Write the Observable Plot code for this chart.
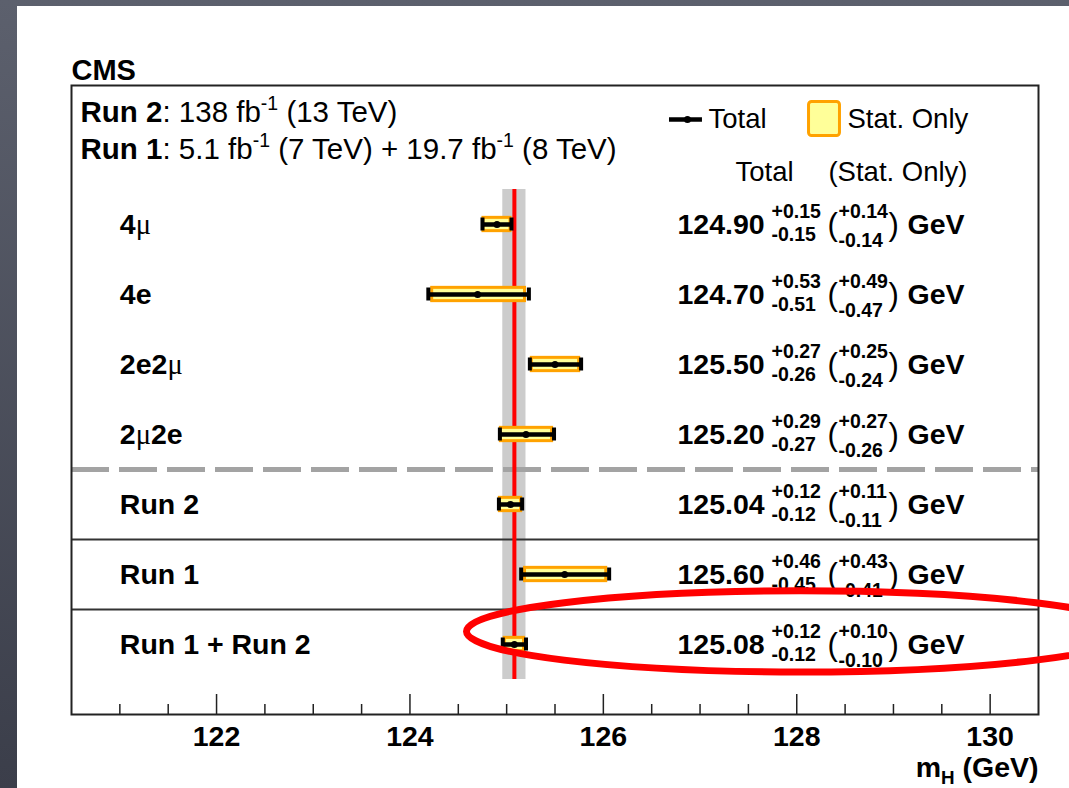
<!DOCTYPE html>
<html><head><meta charset="utf-8">
<script src="https://cdn.jsdelivr.net/npm/d3@7"></script>
<script src="https://cdn.jsdelivr.net/npm/@observablehq/plot@0.6"></script>
<style>
html,body{margin:0;padding:0;width:1069px;height:788px;overflow:hidden;}
body{background:linear-gradient(#5c606d,#3b3e4a);position:relative;font-family:"Liberation Sans",Arial,sans-serif;}
#panel{position:absolute;left:17px;top:6px;width:1052px;height:782px;background:#fff;}
</style></head><body><div id="panel"></div>
<script>
// ---- data ----
const categories = ["**4§μ§**", "**4e**", "**2e2§μ§**", "**2§μ§2e**", "**Run 2**", "**Run 1**", "**Run 1 + Run 2**"];
const mass   = [124.90, 124.70, 125.50, 125.20, 125.04, 125.60, 125.08];
const totUp  = [0.15, 0.53, 0.27, 0.29, 0.12, 0.46, 0.12];
const totDn  = [0.15, 0.51, 0.26, 0.27, 0.12, 0.45, 0.12];
const statUp = [0.14, 0.49, 0.25, 0.27, 0.11, 0.43, 0.10];
const statDn = [0.14, 0.47, 0.24, 0.26, 0.11, 0.41, 0.10];
const majorTicks = [122, 124, 126, 128, 130];
const minorTicks = [121, 121.5, 122.5, 123, 123.5, 124.5, 125, 125.5, 126.5, 127, 127.5, 128.5, 129, 129.5];
const headerRun2 = "**Run 2**: 138 fb^{-1} (13 TeV)";
const headerRun1 = "**Run 1**: 5.1 fb^{-1} (7 TeV) + 19.7 fb^{-1} (8 TeV)";
const legendTotal = "Total";
const legendStat = "Stat. Only";
const columnTotal = "Total";
const columnStat = "(Stat. Only)";
const cmsLabel = "CMS";
const xLabel = "**m_{H} (GeV)**";
const unitLabel = "GeV";

const rows = categories.map((c, i) => ({
  c, i, m: mass[i], tu: totUp[i], td: totDn[i], su: statUp[i], sd: statDn[i]
}));
const comb = rows[rows.length - 1];

const FONT = "'Liberation Sans', Arial, Helvetica, sans-serif";
const vx = 126.767;       // value column start (GeV units)
const capH = 13 / 70;     // cap height (row units)
const boxH = 0.095;

const plot = Plot.plot({
  width: 1052, height: 782,
  marginLeft: 54, marginRight: 31, marginTop: 79, marginBottom: 74,
  x: {domain: [120.5, 130.5]},
  y: {domain: [-139 / 70, 7], reverse: true, axis: null},
  style: {fontFamily: FONT, fontSize: "28px", background: "white", color: "black"},
  marks: [
    // combined band + separators
    Plot.rect([comb], {x1: d => d.m - d.td, x2: d => d.m + d.tu, y1: () => -0.5, y2: () => 6.5, fill: "#cccccc"}),
    Plot.ruleY([3.5], {stroke: "#a3a3a3", strokeWidth: 5, strokeDasharray: "38,10"}),
    Plot.ruleY([4.5, 5.5], {stroke: "#333", strokeWidth: 2}),
    Plot.ruleX([comb], {x: "m", y1: () => -0.5, y2: () => 6.5, stroke: "#ff0000", strokeWidth: 4}),
    // stat boxes
    Plot.rect(rows, {x1: d => d.m - d.sd, x2: d => d.m + d.su, y1: d => d.i - boxH, y2: d => d.i + boxH,
      fill: "#ffff99", stroke: "#ffa200", strokeWidth: 3}),
    // total error bars
    Plot.ruleY(rows, {y: "i", x1: d => d.m - d.td, x2: d => d.m + d.tu, stroke: "black", strokeWidth: 4.5}),
    Plot.ruleX(rows, {x: d => d.m - d.td, y1: d => d.i - capH / 2, y2: d => d.i + capH / 2, stroke: "black", strokeWidth: 4}),
    Plot.ruleX(rows, {x: d => d.m + d.tu, y1: d => d.i - capH / 2, y2: d => d.i + capH / 2, stroke: "black", strokeWidth: 4}),
    Plot.dot(rows, {x: "m", y: "i", r: 3.5, fill: "black"}),
    // row labels
    Plot.text(rows, {x: () => 121.0, y: "i", text: "c", textAnchor: "start", fontSize: 28.5, fontWeight: "bold"}),
    // value column
    Plot.text(rows, {x: () => vx, y: "i", text: d => d.m.toFixed(2), textAnchor: "start", fontSize: 28.5, fontWeight: "bold"}),
    Plot.text(rows, {x: () => vx, y: "i", text: d => "+" + d.tu.toFixed(2), dx: 94, dy: -13, textAnchor: "start", fontSize: 19.5, fontWeight: "bold"}),
    Plot.text(rows, {x: () => vx, y: "i", text: d => "-" + d.td.toFixed(2), dx: 94, dy: 10, textAnchor: "start", fontSize: 19.5, fontWeight: "bold"}),
    Plot.text(rows, {x: () => vx, y: "i", text: () => "(", dx: 150, dy: 1, textAnchor: "start", fontSize: 31}),
    Plot.text(rows, {x: () => vx, y: "i", text: d => "+" + d.su.toFixed(2), dx: 161, dy: -13, textAnchor: "start", fontSize: 19.5, fontWeight: "bold"}),
    Plot.text(rows, {x: () => vx, y: "i", text: d => "-" + d.sd.toFixed(2), dx: 161, dy: 16, textAnchor: "start", fontSize: 19.5, fontWeight: "bold"}),
    Plot.text(rows, {x: () => vx, y: "i", text: () => ")", dx: 211, dy: 1, textAnchor: "start", fontSize: 31}),
    Plot.text(rows, {x: () => vx, y: "i", text: () => unitLabel, dx: 230, textAnchor: "start", fontSize: 28.5, fontWeight: "bold"}),
    // header
    Plot.text([cmsLabel], {x: () => 120.5, y: () => -2.2, text: d => d, textAnchor: "start", fontSize: 29, fontWeight: "bold"}),
    Plot.text([headerRun2], {x: () => 120.593, y: () => -1.6, text: d => d, textAnchor: "start", fontSize: 29.5}),
    Plot.text([headerRun1], {x: () => 120.593, y: () => -1.07, text: d => d, textAnchor: "start", fontSize: 29.5}),
    // legend
    Plot.ruleY([-1.5], {x1: () => 126.684, x2: () => 127.025, stroke: "black", strokeWidth: 4.5}),
    Plot.dot([-1.5], {x: () => 126.87, y: d => d, r: 3.5, fill: "black"}),
    Plot.text([legendTotal], {x: () => 127.087, y: () => -1.5, text: d => d, textAnchor: "start", fontSize: 27.5}),
    Plot.rect([0], {x1: () => 128.127, x2: () => 128.447, y1: () => -1.75, y2: () => -1.264, fill: "#ffff99", stroke: "#ffa200", strokeWidth: 3, rx: 3}),
    Plot.text([legendStat], {x: () => 128.525, y: () => -1.5, text: d => d, textAnchor: "start", fontSize: 27.5}),
    Plot.text([columnTotal], {x: () => 127.366, y: () => -0.743, text: d => d, textAnchor: "start", fontSize: 27.5}),
    Plot.text([columnStat], {x: () => 129.766, y: () => -0.743, text: d => d, textAnchor: "end", fontSize: 27.5}),
    // axis
    Plot.ruleX(majorTicks, {x: d => d, y1: () => 7, y2: () => 7 - 20 / 70, stroke: "#222", strokeWidth: 1.5}),
    Plot.ruleX(minorTicks, {x: d => d, y1: () => 7, y2: () => 7 - 10 / 70, stroke: "#222", strokeWidth: 1.5}),
    Plot.axisX({ticks: majorTicks, tickSize: 0, tickPadding: 11, fontSize: 28.5, fontWeight: "bold", tickFormat: d => String(d), label: null}),
    Plot.text([xLabel], {x: () => 130.5, y: () => 7.76, text: d => d, textAnchor: "end", fontSize: 28.5}),
    Plot.frame({stroke: "#222", strokeWidth: 2})
  ]
});

document.getElementById("panel").appendChild(plot);

// rich-text post-processing (bold / serif / super- & subscripts as tspans)
const NS = "http://www.w3.org/2000/svg";
function parseRich(s) {
  const segs = []; let bold = false, serif = false, mode = 0, buf = "";
  const push = () => { if (buf) segs.push({t: buf, bold, serif, mode}); buf = ""; };
  for (let i = 0; i < s.length; i++) {
    const c = s[i];
    if (c === "*" && s[i + 1] === "*") { push(); bold = !bold; i++; }
    else if (c === "§") { push(); serif = !serif; }
    else if ((c === "^" || c === "_") && s[i + 1] === "{") { push(); mode = c === "^" ? 1 : -1; i++; }
    else if (c === "}" && mode !== 0) { push(); mode = 0; }
    else buf += c;
  }
  push();
  return segs;
}
plot.querySelectorAll("text").forEach(t => {
  const src = t.textContent;
  if (!/\*\*|§|\^\{|_\{/.test(src)) return;
  const fs = parseFloat(getComputedStyle(t).fontSize);
  const segs = parseRich(src);
  while (t.firstChild) t.removeChild(t.firstChild);
  let cur = 0;
  for (const sg of segs) {
    const ts = document.createElementNS(NS, "tspan");
    const target = sg.mode === 1 ? -0.42 * fs : sg.mode === -1 ? 0.26 * fs : 0;
    if (target !== cur) { ts.setAttribute("dy", target - cur); cur = target; }
    if (sg.mode) ts.setAttribute("font-size", 0.66 * fs);
    ts.setAttribute("font-weight", sg.bold && !sg.serif ? "bold" : "normal");
    if (sg.serif) ts.setAttribute("font-family", "'Liberation Serif', 'DejaVu Serif', serif");
    ts.textContent = sg.t;
    t.appendChild(ts);
  }
});

// highlight ellipse annotation around the combined result (in data units)
const highlight = {cx: 128.04, cy: 5.82, rx: 3.45, ry: 0.58};
const sx = plot.scale("x"), sy = plot.scale("y");
const ell = document.createElementNS(NS, "ellipse");
const ecx = sx.apply(highlight.cx), ecy = sy.apply(highlight.cy);
ell.setAttribute("cx", ecx);
ell.setAttribute("cy", ecy);
ell.setAttribute("rx", sx.apply(highlight.cx + highlight.rx) - ecx);
ell.setAttribute("ry", sy.apply(highlight.cy + highlight.ry) - ecy);
ell.setAttribute("fill", "none");
ell.setAttribute("stroke", "#ff0000");
ell.setAttribute("stroke-width", 7);
plot.appendChild(ell);
</script>
</body></html>
